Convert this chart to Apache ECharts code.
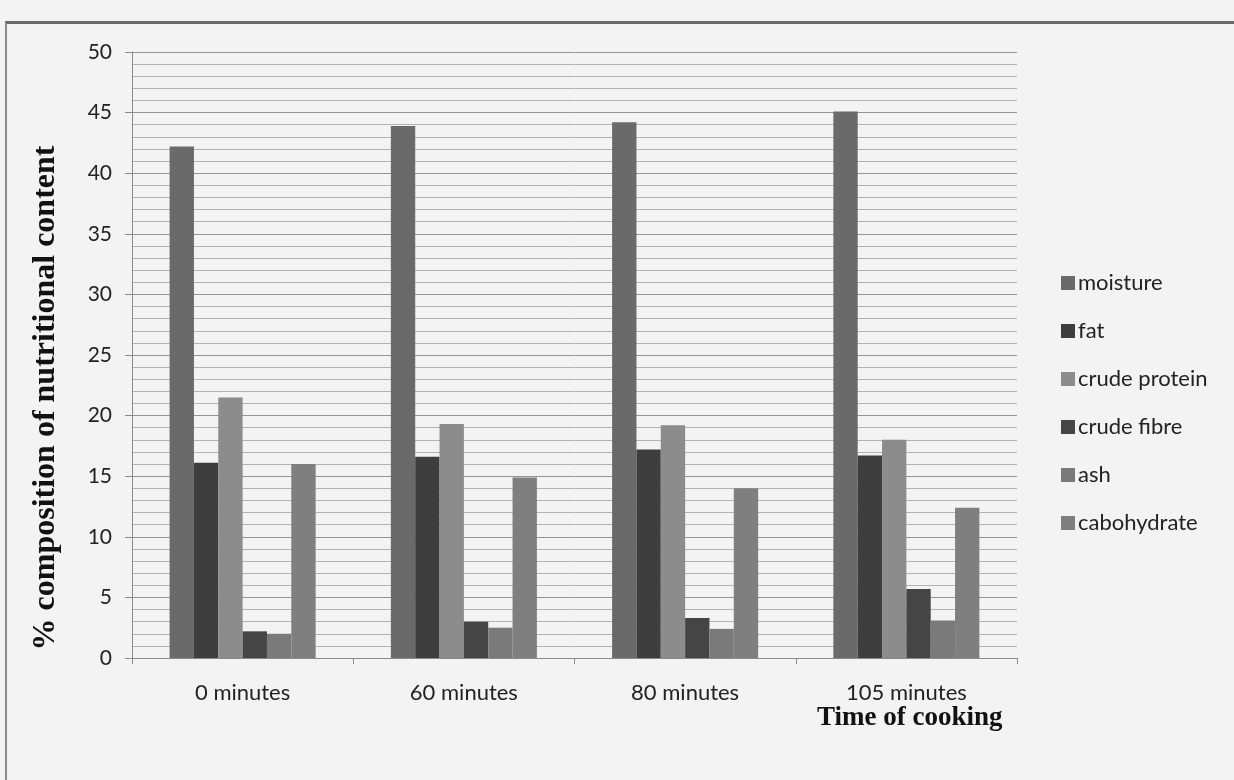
<!DOCTYPE html>
<html>
<head>
<meta charset="utf-8">
<script src="https://cdn.jsdelivr.net/npm/echarts@6/dist/echarts.min.js"></script>
<style>
html,body{margin:0;padding:0;background:#f3f3f3;}
#frame{position:absolute;left:5px;top:21px;width:1229px;height:759px;border-top:3px solid #6a6a6a;border-left:2px solid #8a8a8a;box-sizing:border-box;}
#chart{position:absolute;left:0;top:0;width:1234px;height:780px;}
</style>
</head>
<body>
<div id="frame"></div>
<div id="chart"></div>
<script>
const categories = ['0 minutes', '60 minutes', '80 minutes', '105 minutes'];
const seriesNames = ['moisture', 'fat', 'crude protein', 'crude fibre', 'ash', 'cabohydrate'];
const moisture = [42.2, 43.9, 44.2, 45.1];
const fat = [16.1, 16.6, 17.2, 16.7];
const crudeProtein = [21.5, 19.3, 19.2, 18.0];
const crudeFibre = [2.2, 3.0, 3.3, 5.7];
const ash = [2.0, 2.5, 2.4, 3.1];
const cabohydrate = [16.0, 14.9, 14.0, 12.4];
const yTicks = [0, 5, 10, 15, 20, 25, 30, 35, 40, 45, 50];
const yTitle = '% composition of nutritional content';
const xTitle = 'Time of cooking';

const values = [moisture, fat, crudeProtein, crudeFibre, ash, cabohydrate];
const colors = ['#6a6a6a', '#3e3e3e', '#8c8c8c', '#454545', '#7a7a7a', '#7f7f7f'];

const chart = echarts.init(document.getElementById('chart'), null, {renderer: 'canvas'});
chart.setOption({
  backgroundColor: 'transparent',
  animation: false,
  textStyle: {fontFamily: 'Lato, "Open Sans", sans-serif'},
  title: {
    text: xTitle,
    left: 812, top: 700,
    textStyle: {fontFamily: '"Liberation Serif", serif', fontWeight: 'bold', fontSize: 27, color: '#111'}
  },
  graphic: [{
    type: 'text', x: 46, y: 398, rotation: Math.PI / 2,
    style: {
      text: yTitle, fontFamily: '"Liberation Serif", serif', fontWeight: 'bold', fontSize: 32,
      fill: '#111', textAlign: 'center', textVerticalAlign: 'middle'
    }
  }],
  grid: {left: 132, right: 217, top: 52, bottom: 122, containLabel: false},
  legend: {
    orient: 'vertical', left: 1056, top: 266,
    itemWidth: 14, itemHeight: 14, itemGap: 24,
    icon: 'rect',
    textStyle: {fontSize: 22, lineHeight: 24, color: '#222', padding: [0, 0, 0, -2]},
    data: seriesNames
  },
  xAxis: {
    type: 'category', data: categories,
    axisLine: {lineStyle: {color: '#8a8a8a', width: 1}},
    axisTick: {show: true, length: 6, lineStyle: {color: '#8a8a8a'}},
    axisLabel: {fontSize: 22, color: '#222', margin: 24}
  },
  yAxis: {
    type: 'value', min: 0, max: 50, interval: 5,
    axisLine: {show: true, lineStyle: {color: '#8a8a8a'}},
    axisTick: {show: true, length: 7, lineStyle: {color: '#8a8a8a'}},
    axisLabel: {fontSize: 21, color: '#222', margin: 20,
      formatter: v => yTicks.includes(v) ? String(v) : ''},
    splitLine: {show: true, lineStyle: {color: '#949494', width: 1}},
    minorTick: {show: false, splitNumber: 5},
    minorSplitLine: {show: true, lineStyle: {color: '#b2b2b2', width: 1}}
  },
  series: seriesNames.map((n, i) => ({
    name: n, type: 'bar', data: values[i],
    barGap: '0%', barCategoryGap: '34%',
    itemStyle: {color: colors[i]}
  }))
});
</script>
</body>
</html>
